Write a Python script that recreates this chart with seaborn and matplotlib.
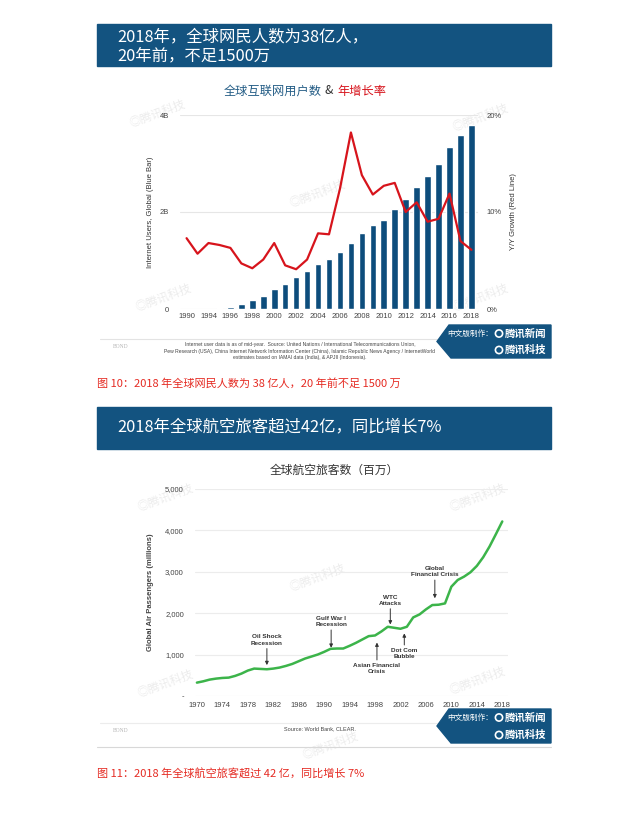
import numpy as np
import pandas as pd
import matplotlib
matplotlib.use('Agg')
import matplotlib.pyplot as plt
import seaborn as sns
from matplotlib.patches import Rectangle, Polygon, Circle

# ---- data: chart 1, global internet users (billions) and Y/Y growth (%)
user_ticklabels = ['1990', '1994', '1996', '1998', '2000', '2002', '2004',
                   '2006', '2008', '2010', '2012', '2014', '2016', '2018']
internet_users = [0.002, 0.005, 0.01, 0.02, 0.05, 0.10, 0.18, 0.27, 0.42,
                  0.51, 0.66, 0.78, 0.92, 1.03, 1.17, 1.37, 1.56, 1.74,
                  1.83, 2.06, 2.27, 2.52, 2.74, 2.98, 3.35, 3.58, 3.80]
yoy_growth = [7.3, 5.7, 6.8, 6.6, 6.3, 4.7, 4.2, 5.1, 6.8, 4.5, 4.1, 5.1,
              7.8, 7.7, 12.4, 18.2, 13.8, 11.8, 12.7, 13.0, 10.0, 11.0,
              9.0, 9.3, 11.9, 7.0, 6.1]

# ---- data: chart 2, global air passengers (millions)
air_years = list(range(1970, 2019))
air_passengers = [323, 355, 396, 420, 436, 444, 485, 541, 614, 662,
                  654, 646, 662, 687, 727, 775, 840, 905, 953, 1002,
                  1066, 1139, 1147, 1147, 1212, 1284, 1365, 1446, 1462, 1559,
                  1672, 1648, 1624, 1672, 1898, 1971, 2092, 2197, 2205, 2237,
                  2641, 2803, 2884, 2989, 3142, 3352, 3611, 3910, 4216]
air_ticks = list(range(1970, 2019, 4))
events = ['Oil Shock\nRecession', 'Gulf War I\nRecession', 'WTC\nAttacks',
          'Global\nFinancial Crisis', 'Asian Financial\nCrisis', 'Dot Com\nBubble']
event_years = [1981.0, 1991.1, 2000.4, 2007.4, 1998.3, 2002.6]

# ---- text
banner1 = '2018年，全球网民人数为38亿人，\n20年前，不足1500万'
banner2 = '2018年全球航空旅客超过42亿，同比增长7%'
caption1 = '图 10：2018 年全球网民人数为 38 亿人，20 年前不足 1500 万'
caption2 = '图 11：2018 年全球航空旅客超过 42 亿，同比增长 7%'
source1 = ('Internet user data is as of mid-year.  Source: United Nations / International Telecommunications Union,\n'
           'Pew Research (USA), China Internet Network Information Center (China), Islamic Republic News Agency / InternetWorld\n'
           'estimates based on IAMAI data (India), & APJII (Indonesia).')
source2 = 'Source: World Bank, CLEAR.'

navy = '#135380'
bar_blue = '#0d4d7c'
red = '#d7141c'
green = '#3cb44a'
cap_red = '#e52a22'

sns.set_theme(style='white')
plt.rcParams['font.family'] = ['Liberation Sans', 'Noto Sans CJK SC', 'DejaVu Sans']
CJK = ['Noto Sans CJK SC', 'DejaVu Sans']

W, H = 640, 839
fig = plt.figure(figsize=(W / 100, H / 100), dpi=100)
fig.patch.set_facecolor('white')

# background axes in pixel coordinates
bg = fig.add_axes([0, 0, 1, 1])
bg.set_xlim(0, W)
bg.set_ylim(H, 0)
bg.axis('off')


def px_axes(l, t, r, b):
    return fig.add_axes([l / W, 1 - b / H, (r - l) / W, (b - t) / H])


def watermark(x, y):
    bg.text(x, y, '◎腾讯科技', family=CJK, fontsize=8.5, color='#ececec',
            rotation=20, ha='center', va='center', zorder=0)


def logo_box(top, bottom):
    mid = (top + bottom) / 2
    bg.add_patch(Polygon([(449, top), (551, top), (551, bottom), (451, bottom), (437, mid)],
                         closed=True, color=navy, zorder=3))
    y1, y2 = top + 8.5, bottom - 8
    bg.text(447, y1, '中文版制作：', family=CJK, fontsize=5.5, color='white',
            ha='left', va='center', zorder=4)
    for yy in (y1, y2):
        bg.add_patch(Circle((499, yy), 3.6, fill=False, ec='white', lw=1.2, zorder=4))
    for yy, name in ((y1, '腾讯新闻'), (y2, '腾讯科技')):
        bg.text(505, yy, name, family=CJK, fontsize=7.5, color='white', style='italic',
                fontweight='bold', ha='left', va='center', zorder=4)


# ---------------- panel 1
bg.add_patch(Rectangle((97, 24), 454, 42, color=navy, zorder=1))
bg.text(117, 37, banner1.split('\n')[0], family=CJK, fontsize=11.8, color='white',
        va='center', ha='left', zorder=2)
bg.text(117, 55.5, banner1.split('\n')[1], family=CJK, fontsize=11.8, color='white',
        va='center', ha='left', zorder=2)
bg.text(322, 91, '全球互联网用户数', family=CJK, fontsize=8.8, color='#245d86', ha='right', va='center')
bg.text(329, 91, '&', family=CJK, fontsize=8.8, color='#333333', ha='center', va='center')
bg.text(337, 91, '年增长率', family=CJK, fontsize=8.8, color=red, ha='left', va='center')

for p in [(157, 113), (480, 117), (317, 193), (163, 297), (480, 297)]:
    watermark(*p)

ax1 = px_axes(180, 115, 478, 309)
ax1.patch.set_alpha(0)
pos = list(range(len(internet_users)))
sns.barplot(x=pos, y=internet_users, color=bar_blue, saturation=1, width=0.6, ax=ax1, zorder=2)
ax1.set_xlim(-0.6, len(pos) - 0.4)
ax1.set_ylim(0, 4)
ax1.set_yticks([0, 2, 4])
ax1.set_yticklabels(['0', '2B', '4B'])
ax1.set_xticks(pos[::2])
ax1.set_xticklabels(user_ticklabels)
ax1.grid(axis='y', color='#e6e6e6', lw=0.8, zorder=0)
ax1.set_axisbelow(True)
for s in ax1.spines.values():
    s.set_visible(False)
ax1.tick_params(axis='both', length=0, labelsize=5.5, labelcolor='#444444', pad=3)
ax1.tick_params(axis='y', pad=8)
ax1.set_ylabel('Internet Users, Global (Blue Bar)', fontsize=5.5, color='#333333', labelpad=4)

ax1r = ax1.twinx()
sns.lineplot(x=pos, y=yoy_growth, color=red, lw=1.6, ax=ax1r, zorder=3)
ax1r.set_ylim(0, 20)
ax1r.set_yticks([0, 10, 20])
ax1r.set_yticklabels(['0%', '10%', '20%'])
for s in ax1r.spines.values():
    s.set_visible(False)
ax1r.tick_params(axis='y', length=0, labelsize=5.5, labelcolor='#444444', pad=6)
ax1r.set_ylabel('Y/Y Growth (Red Line)', fontsize=5.5, color='#333333', labelpad=6)
ax1r.grid(False)

bg.plot([100, 440], [339, 339], color='#e3e3e3', lw=0.8)
bg.text(113, 347, 'BOND', family=['Liberation Serif'], fontsize=4, color='#b5b5b5', va='center')
bg.text(300, 351, source1, fontsize=3.6, color='#444444', ha='center', va='center', linespacing=1.3)
logo_box(325, 358)
bg.text(97, 383, caption1, family=CJK, fontsize=8, color=cap_red, va='center')

# ---------------- panel 2
bg.add_patch(Rectangle((97, 407), 454, 42, color=navy, zorder=1))
bg.text(117, 426.5, banner2, family=CJK, fontsize=11.8, color='white', va='center', ha='left', zorder=2)
bg.text(334, 470, '全球航空旅客数（百万）', family=CJK, fontsize=8.5, color='#333333',
        ha='center', va='center')

for p in [(165, 497), (477, 497), (317, 577), (165, 683), (477, 680), (330, 745)]:
    watermark(*p)

ax2 = px_axes(195, 489, 508, 696)
ax2.patch.set_alpha(0)
sns.lineplot(x=air_years, y=air_passengers, color=green, lw=1.8, ax=ax2, zorder=3)
ax2.set_xlim(1969.7, 2018.9)
ax2.set_ylim(0, 5000)
ax2.set_yticks(range(0, 5001, 1000))
ax2.set_yticklabels(['-'] + [f'{v:,}' for v in range(1000, 5001, 1000)])
ax2.set_xticks(air_ticks)
ax2.set_xticklabels([str(t) for t in air_ticks])
ax2.grid(axis='y', color='#ececec', lw=0.8, zorder=0)
for s in ax2.spines.values():
    s.set_visible(False)
ax2.tick_params(axis='both', length=0, labelsize=5.5, labelcolor='#444444', pad=4)
ax2.tick_params(axis='y', pad=8)
ax2.set_ylabel('Global Air Passengers (millions)', fontsize=5.5, fontweight='bold',
               color='#444444', labelpad=8)
ax2.set_xlabel('')

# arrows: gap between tip and line (positive = arrow from above) and arrow length
ann_gap = [100, 25, 65, 160, -200, -140]
ann_len = [400, 430, 380, 440, 420, 280]
for label, yr, gap, alen in zip(events, event_years, ann_gap, ann_len):
    val = float(np.interp(yr, air_years, air_passengers))
    tip = val + gap
    if gap > 0:
        start, txt, va = tip + alen, tip + alen + 70, 'bottom'
    else:
        start, txt, va = tip - alen, tip - alen - 80, 'top'
    ax2.annotate('', xy=(yr, tip), xytext=(yr, start),
                 arrowprops=dict(arrowstyle='-|>', color='#333333', lw=0.7,
                                 mutation_scale=5, shrinkA=0, shrinkB=0))
    ax2.text(yr, txt, label, fontsize=4.6, fontweight='bold', color='#333333',
             ha='center', va=va, linespacing=1.3)

bg.plot([100, 437], [723, 723], color='#ececec', lw=0.8)
bg.text(113, 730, 'BOND', family=['Liberation Serif'], fontsize=4, color='#b5b5b5', va='center')
bg.text(320, 729, source2, fontsize=4, color='#444444', ha='center', va='center')
logo_box(709, 743)
bg.plot([97, 551], [747, 747], color='#d8d8d8', lw=0.8)
bg.text(97, 774, caption2, family=CJK, fontsize=8, color=cap_red, va='center')

fig.savefig('out.png', dpi=100, facecolor='white')
